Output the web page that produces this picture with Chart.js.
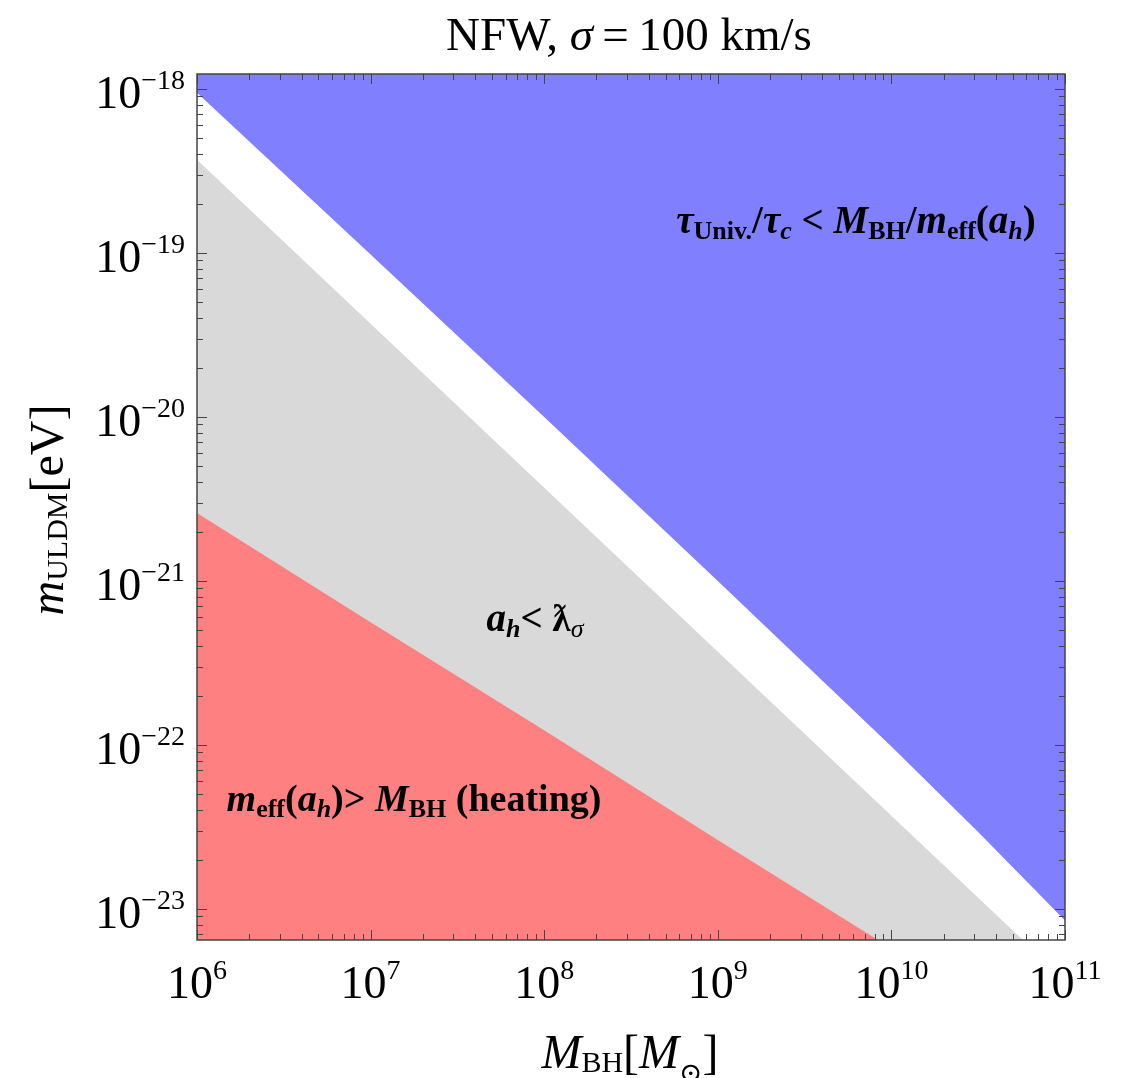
<!DOCTYPE html>
<html>
<head>
<meta charset="utf-8">
<script src="https://cdn.jsdelivr.net/npm/chart.js@4.4.0/dist/chart.umd.min.js"></script>
<style>
  html, body { margin: 0; padding: 0; background: #fff; }
  #wrap { width: 1121px; height: 1078px; position: relative; }
</style>
</head>
<body>
<div id="wrap"><canvas id="chart"></canvas></div>
<script>
// Axis ranges
const xMin = 1e6, xMax = 1e11;
const yMin = 6.47e-24, yMax = 1.234e-18;

// Tick labels
const xTickExps = [6, 7, 8, 9, 10, 11];
const yTickExps = [-18, -19, -20, -21, -22, -23];

// Boundary curves: M_BH [M_sun] vs m_ULDM [eV]
const blueX = [1e6, 1e7, 1e8, 1e9, 1e10, 3.16e10, 1e11];
const blueY = [9.5e-19, 9.8e-20, 1.0e-20, 1.0e-21, 9.8e-23, 2.95e-23, 8.5e-24];

const grayX = [1e6, 1e7, 1e8, 1e9, 1e10, 1e11];
const grayY = [3.7e-19, 3.7e-20, 3.7e-21, 3.7e-22, 3.7e-23, 3.7e-24];

const redX = [1e6, 1e7, 1e8, 1e9, 1e10, 1e11];
const redY = [2.6e-21, 5.6e-22, 1.23e-22, 2.63e-23, 5.75e-24, 1.26e-24];

const colors = {
  blue: '#8080FF',
  gray: '#D9D9D9',
  red: '#FF8080',
  axis: '#444444',
};

const SERIF = "'Liberation Serif', 'DejaVu Serif', serif";

function pts(xs, ys) {
  return xs.map((x, i) => ({ x: x, y: ys[i] }));
}

// draw text made of pieces with their own font and vertical shift
function drawRich(ctx, parts, x, y, align) {
  let total = 0;
  parts.forEach(p => { ctx.font = p.f; p.w = ctx.measureText(p.t).width; total += p.w; });
  let cx = align === 'center' ? x - total / 2 : (align === 'right' ? x - total : x);
  parts.forEach(p => {
    ctx.font = p.f;
    ctx.fillText(p.t, cx, y + (p.dy || 0));
    cx += p.w;
  });
}

function f(style, size) { return style + ' ' + size + 'px ' + SERIF; }

const framePlugin = {
  id: 'frame',
  afterDraw(chart) {
    const ctx = chart.ctx;
    const a = chart.chartArea;
    const xs = chart.scales.x, ys = chart.scales.y;
    ctx.save();
    ctx.fillStyle = '#000';
    ctx.textAlign = 'left';
    ctx.textBaseline = 'alphabetic';

    // ticks, inward on all four sides
    ctx.strokeStyle = colors.axis;
    ctx.lineWidth = 1;
    ctx.beginPath();
    for (let e = 6; e <= 11; e++) {
      for (let k = 1; k <= 9; k++) {
        const v = k * Math.pow(10, e);
        if (v < xMin || v > xMax) continue;
        const px = Math.round(xs.getPixelForValue(v)) + 0.5;
        const len = k === 1 ? 10 : 6;
        ctx.moveTo(px, a.bottom); ctx.lineTo(px, a.bottom - len);
        ctx.moveTo(px, a.top); ctx.lineTo(px, a.top + len);
      }
    }
    for (let e = -24; e <= -18; e++) {
      for (let k = 1; k <= 9; k++) {
        const v = k * Math.pow(10, e);
        if (v < yMin || v > yMax) continue;
        const py = Math.round(ys.getPixelForValue(v)) + 0.5;
        const len = k === 1 ? 10 : 6;
        ctx.moveTo(a.left, py); ctx.lineTo(a.left + len, py);
        ctx.moveTo(a.right, py); ctx.lineTo(a.right - len, py);
      }
    }
    ctx.stroke();

    // frame
    ctx.lineWidth = 1.5;
    ctx.strokeStyle = colors.axis;
    ctx.strokeRect(a.left, a.top, a.right - a.left, a.bottom - a.top);

    // x tick labels
    xTickExps.forEach(e => {
      const px = xs.getPixelForValue(Math.pow(10, e));
      drawRich(ctx, [
        { t: '10', f: f('', 46) },
        { t: String(e), f: f('', 28), dy: -19 }
      ], px, a.bottom + 58, 'center');
    });

    // y tick labels
    yTickExps.forEach(e => {
      const py = ys.getPixelForValue(Math.pow(10, e));
      drawRich(ctx, [
        { t: '10', f: f('', 46) },
        { t: '\u2212' + String(-e), f: f('', 28), dy: -19 }
      ], a.left - 12, py + 19, 'right');
    });

    // title
    drawRich(ctx, [
      { t: 'NFW, ', f: f('', 47) },
      { t: '\u03c3', f: f('italic', 47) },
      { t: '\u2009=\u2009100 km/s', f: f('', 47) }
    ], 629, 50, 'center');

    // x axis title
    drawRich(ctx, [
      { t: 'M', f: f('italic', 48) },
      { t: 'BH', f: f('', 30), dy: 4 },
      { t: '[', f: f('', 48) },
      { t: 'M', f: f('italic', 48) },
      { t: '\u2299', f: f('', 28), dy: 14 },
      { t: ']', f: f('', 48) }
    ], 630, 1068, 'center');

    // y axis title (rotated)
    ctx.save();
    ctx.translate(63, 510);
    ctx.rotate(-Math.PI / 2);
    drawRich(ctx, [
      { t: 'm', f: f('italic', 48) },
      { t: 'ULDM', f: f('', 30), dy: 4 },
      { t: '[eV]', f: f('', 48) }
    ], 0, 0, 'center');
    ctx.restore();

    // region labels
    drawRich(ctx, [
      { t: '\u03c4', f: f('bold italic', 39) },
      { t: 'Univ.', f: f('bold', 26), dy: 6 },
      { t: '/', f: f('bold', 39) },
      { t: '\u03c4', f: f('bold italic', 39) },
      { t: 'c', f: f('bold italic', 26), dy: 6 },
      { t: ' < ', f: f('bold', 39) },
      { t: 'M', f: f('bold italic', 39) },
      { t: 'BH', f: f('bold', 26), dy: 6 },
      { t: '/', f: f('bold', 39) },
      { t: 'm', f: f('bold italic', 39) },
      { t: 'eff', f: f('bold', 26), dy: 6 },
      { t: '(', f: f('bold', 39) },
      { t: 'a', f: f('bold italic', 39) },
      { t: 'h', f: f('bold italic', 26), dy: 6 },
      { t: ')', f: f('bold', 39) }
    ], 856, 233, 'center');

    drawRich(ctx, [
      { t: 'a', f: f('bold italic', 39) },
      { t: 'h', f: f('bold italic', 26), dy: 6 },
      { t: '< ', f: f('bold', 39) },
      { t: '\u019b', f: f('bold', 37) },
      { t: '\u03c3', f: f('italic', 26), dy: 6 }
    ], 535, 631, 'center');

    drawRich(ctx, [
      { t: 'm', f: f('bold italic', 38) },
      { t: 'eff', f: f('bold', 26), dy: 6 },
      { t: '(', f: f('bold', 38) },
      { t: 'a', f: f('bold italic', 38) },
      { t: 'h', f: f('bold italic', 26), dy: 6 },
      { t: ')> ', f: f('bold', 38) },
      { t: 'M', f: f('bold italic', 38) },
      { t: 'BH', f: f('bold', 26), dy: 6 },
      { t: ' (heating)', f: f('bold', 38) }
    ], 414, 811, 'center');

    ctx.restore();
  }
};

new Chart(document.getElementById('chart'), {
  type: 'line',
  data: {
    datasets: [
      {
        label: 'heating',
        data: pts(redX, redY),
        borderWidth: 0,
        pointRadius: 0,
        backgroundColor: colors.red,
        fill: 'start',
      },
      {
        label: 'a_h < lambda',
        data: pts(grayX, grayY),
        borderWidth: 0,
        pointRadius: 0,
        backgroundColor: colors.gray,
        fill: 'start',
      },
      {
        label: 'tau',
        data: pts(blueX, blueY),
        borderWidth: 0,
        pointRadius: 0,
        backgroundColor: colors.blue,
        fill: 'end',
      }
    ]
  },
  options: {
    responsive: true,
    maintainAspectRatio: false,
    animation: false,
    layout: { padding: { left: 197, top: 74, right: 56, bottom: 138 } },
    plugins: {
      legend: { display: false },
      tooltip: { enabled: false },
      title: { display: false }
    },
    scales: {
      x: { type: 'logarithmic', min: xMin, max: xMax, display: false },
      y: { type: 'logarithmic', min: yMin, max: yMax, display: false }
    }
  },
  plugins: [framePlugin]
});
</script>
</body>
</html>
